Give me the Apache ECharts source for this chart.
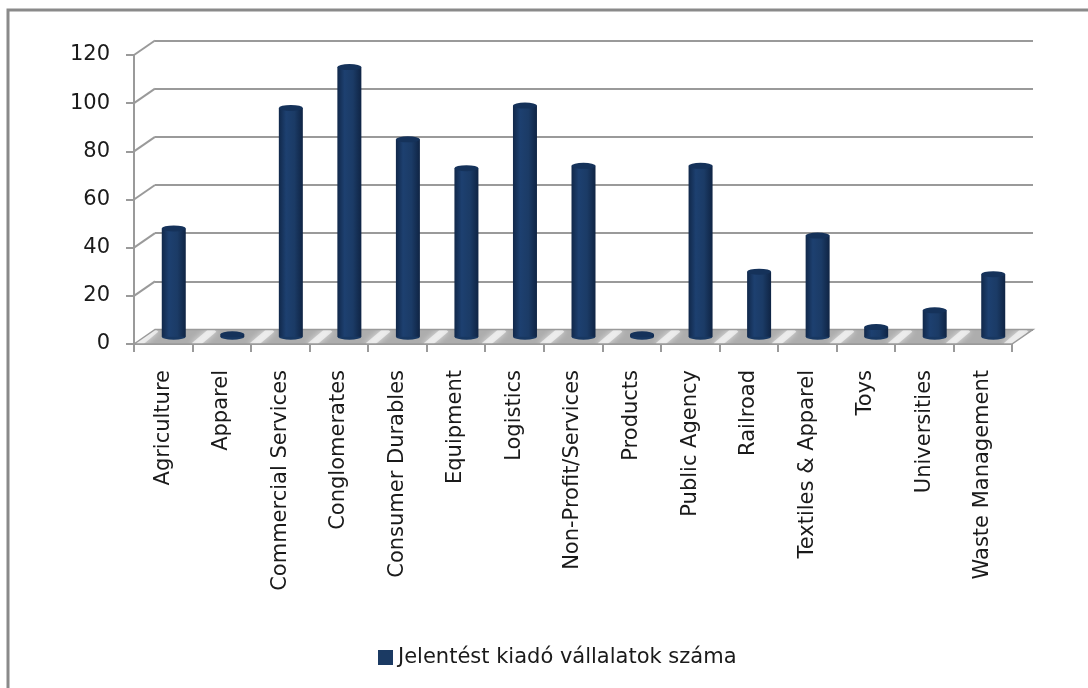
<!DOCTYPE html>
<html>
<head>
<meta charset="utf-8">
<style>
  html, body { margin: 0; padding: 0; background: #fff; }
  #chart { width: 1088px; height: 688px; }
</style>
<script src="https://cdn.jsdelivr.net/npm/echarts@6/dist/echarts.min.js"></script>
</head>
<body>
<div id="chart"></div>
<script>
// adatok
var categories = ['Agriculture', 'Apparel', 'Commercial Services', 'Conglomerates', 'Consumer Durables',
  'Equipment', 'Logistics', 'Non-Profit/Services', 'Products', 'Public Agency', 'Railroad',
  'Textiles & Apparel', 'Toys', 'Universities', 'Waste Management'];
var counts = [45, 1, 95, 112, 82, 70, 96, 71, 1, 71, 27, 42, 4, 11, 26];
var yMax = 120;
var yStep = 20;
var seriesName = 'Jelentést kiadó vállalatok száma';

// layout (pseudo 3D: front axis, bars in the middle, back wall)
var plotW = 878, plotH = 289;
var front = { left: 134, top: 55 };
var dx = 21, dy = -14.5;
var mid = { left: front.left + dx / 2, top: front.top + dy / 2 };
var back = { left: front.left + dx, top: front.top + dy };
var font = 'DejaVu Sans';

// floor texture
function floorPattern() {
  var c = document.createElement('canvas');
  c.width = 58; c.height = 15;
  var ctx = c.getContext('2d');
  ctx.fillStyle = '#ADADAD';
  ctx.fillRect(0, 0, 58, 15);
  ctx.strokeStyle = 'rgba(255,255,255,0.6)';
  ctx.lineWidth = 7;
  ctx.shadowColor = '#ffffff';
  ctx.shadowBlur = 6;
  ctx.beginPath();
  ctx.moveTo(20, 16); ctx.lineTo(40, -1);
  ctx.stroke();
  return c;
}

var graphics = [];
// frame
graphics.push({ type: 'rect', z: 0, shape: { x: 8, y: 10, width: 1200, height: 800 },
  style: { fill: null, stroke: '#8A8A8A', lineWidth: 3 } });
// floor
var y0f = front.top + plotH, y0b = back.top + plotH;
graphics.push({ type: 'polygon', z: 1, shape: { points: [
  [front.left, y0f], [back.left, y0b], [back.left + plotW, y0b], [front.left + plotW, y0f]] },
  style: { fill: { image: floorPattern(), repeat: 'repeat' }, stroke: '#9A9A9A', lineWidth: 1.5 } });
// side wall diagonals
for (var v = yStep; v <= yMax; v += yStep) {
  var yf = front.top + plotH - v / yMax * plotH;
  graphics.push({ type: 'line', z: 1, shape: { x1: front.left, y1: yf, x2: back.left, y2: yf + dy },
    style: { stroke: '#9A9A9A', lineWidth: 2 } });
}

var chart = echarts.init(document.getElementById('chart'));
chart.setOption({
  animation: false,
  backgroundColor: '#ffffff',
  graphic: graphics,
  grid: [
    { left: back.left, top: back.top, width: plotW, height: plotH },
    { left: front.left, top: front.top, width: plotW, height: plotH },
    { left: mid.left, top: mid.top, width: plotW, height: plotH }
  ],
  legend: {
    data: [{ name: seriesName, itemStyle: { color: '#1B3A63' } }],
    left: 373, top: 642,
    icon: 'rect', itemWidth: 15, itemHeight: 15, itemGap: 5,
    textStyle: { fontFamily: font, fontSize: 21, color: '#1a1a1a', padding: [0, 0, 0, 0] }
  },
  xAxis: [
    { gridIndex: 0, type: 'category', data: categories, show: false },
    { gridIndex: 1, type: 'category', data: categories,
      axisLine: { show: true, lineStyle: { color: '#9A9A9A', width: 2 } },
      axisTick: { show: true, length: 8, lineStyle: { color: '#9A9A9A', width: 2 } },
      axisLabel: { interval: 0, rotate: 90, margin: 26, fontFamily: font, fontSize: 21, color: '#1a1a1a' } },
    { gridIndex: 2, type: 'category', data: categories, show: false }
  ],
  yAxis: [
    { gridIndex: 0, type: 'value', min: 0, max: yMax, interval: yStep,
      axisLine: { show: false }, axisTick: { show: false }, axisLabel: { show: false },
      splitLine: { show: true, lineStyle: { color: '#9A9A9A', width: 2 } } },
    { gridIndex: 1, type: 'value', min: 0, max: yMax, interval: yStep,
      axisLine: { show: true, lineStyle: { color: '#9A9A9A', width: 2 } },
      axisTick: { show: true, length: 8, lineStyle: { color: '#9A9A9A', width: 2 } },
      splitLine: { show: false },
      axisLabel: { margin: 24, fontFamily: font, fontSize: 21, color: '#1a1a1a' } },
    { gridIndex: 2, type: 'value', min: 0, max: yMax, show: false }
  ],
  series: [
    {
      name: seriesName, type: 'bar', xAxisIndex: 2, yAxisIndex: 2, z: 10,
      barWidth: 24, data: counts,
      itemStyle: { color: new echarts.graphic.LinearGradient(0, 0, 1, 0, [
        { offset: 0, color: '#11284A' }, { offset: 0.3, color: '#1D4070' },
        { offset: 0.65, color: '#1B3B66' }, { offset: 1, color: '#0F2444' }]) }
    },
    {
      name: 'bottom', type: 'pictorialBar', xAxisIndex: 2, yAxisIndex: 2, z: 9,
      symbol: 'circle', symbolSize: [24, 6], symbolOffset: [0, '50%'], data: counts,
      itemStyle: { color: '#183862' }
    },
    {
      name: 'top', type: 'pictorialBar', xAxisIndex: 2, yAxisIndex: 2, z: 12,
      symbol: 'circle', symbolSize: [24, 6], symbolPosition: 'end', symbolOffset: [0, '-50%'],
      data: counts,
      itemStyle: { color: '#15325A' }
    }
  ]
});
</script>
</body>
</html>
